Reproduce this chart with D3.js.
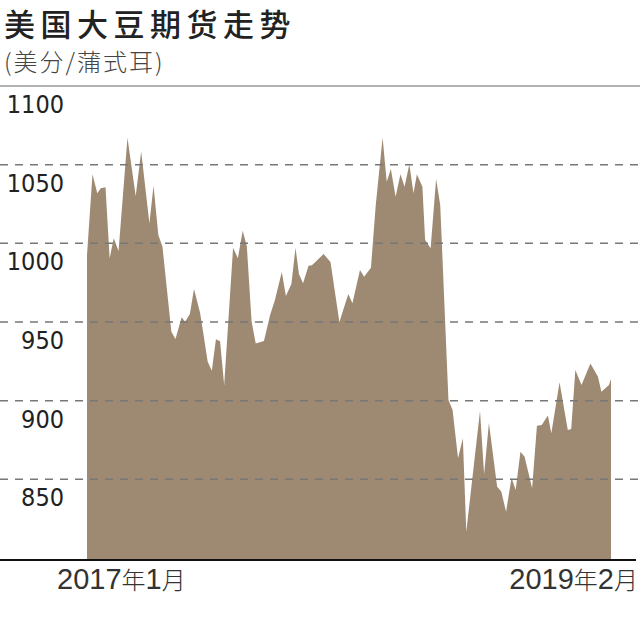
<!DOCTYPE html>
<html>
<head>
<meta charset="utf-8">
<script src="https://cdn.jsdelivr.net/npm/d3@7/dist/d3.min.js"></script>
<style>
  html, body { margin: 0; padding: 0; background: #fff; }
  svg { display: block; }
</style>
</head>
<body>
<svg id="chart" width="640" height="632"></svg>
<script>
const title = "美国大豆期货走势";
const subtitle = "(美分/蒲式耳)";
const dates = [
  "2017-01-03","2017-01-11","2017-01-18","2017-01-23","2017-01-30","2017-02-05","2017-02-11","2017-02-18",
  "2017-03-03","2017-03-15","2017-03-23","2017-04-04","2017-04-10","2017-04-17","2017-04-23","2017-05-06",
  "2017-05-12","2017-05-21","2017-05-26","2017-06-02","2017-06-08","2017-06-17","2017-06-28","2017-07-04",
  "2017-07-10","2017-07-16","2017-07-22","2017-08-04","2017-08-11","2017-08-18","2017-08-24","2017-08-31",
  "2017-09-06","2017-09-18","2017-09-27","2017-10-04","2017-10-14","2017-10-20","2017-10-28","2017-11-03",
  "2017-11-08","2017-11-14","2017-11-22","2017-11-27","2017-12-14","2017-12-24","2018-01-06","2018-01-19",
  "2018-01-25","2018-02-05","2018-02-11","2018-02-21","2018-02-28","2018-03-10","2018-03-16","2018-03-22",
  "2018-03-29","2018-04-05","2018-04-11","2018-04-18","2018-04-24","2018-04-29","2018-05-07","2018-05-11",
  "2018-05-19","2018-05-27","2018-06-02","2018-06-14","2018-06-20","2018-06-28","2018-07-05","2018-07-10",
  "2018-07-30","2018-08-05","2018-08-12","2018-08-24","2018-08-30","2018-09-06","2018-09-14","2018-09-20",
  "2018-09-27","2018-10-03","2018-10-14","2018-10-21","2018-10-28","2018-11-06","2018-11-11","2018-11-23",
  "2018-12-05","2018-12-10","2018-12-16","2018-12-25","2019-01-07","2019-01-18","2019-01-23","2019-02-03",
  "2019-02-06"
];
const prices = [
  992.6,1043.9,1031.8,1035.0,1035.6,990.5,1003.2,995.1,
  1067.1,1030.1,1058.3,1012.7,1036.6,1005.3,997.9,943.8,
  939.2,953.0,950.2,955.1,971.0,955.5,924.8,919.0,
  939.0,937.7,910.0,997.2,990.5,1008.0,998.3,950.2,
  936.4,937.9,954.4,964.0,981.8,966.5,974.1,997.2,
  980.5,974.6,985.8,986.0,993.2,988.1,950.0,967.8,
  961.9,983.0,978.8,984.5,1024.4,1067.1,1039.2,1047.2,
  1029.6,1043.9,1036.0,1050.2,1031.8,1043.9,1036.0,1002.1,
  996.8,1040.9,1024.4,900.4,894.1,863.4,876.1,816.7,
  893.4,853.2,885.8,845.3,842.2,829.4,851.0,843.2,
  867.6,864.4,844.3,884.1,884.6,890.5,879.3,911.7,
  881.4,882.0,919.5,910.0,923.7,915.2,905.7,910.0,
  913.8
];
const yDomain = [800, 1100];
const gridTicks = [850, 900, 950, 1000, 1050];
const labelTicks = [1100, 1050, 1000, 950, 900, 850];
const xLabelStart = ["2017", "年", "1", "月"];
const xLabelEnd = ["2019", "年", "2", "月"];

const data = dates.map((d, i) => ({ date: d3.timeParse("%Y-%m-%d")(d), value: prices[i] }));

const svg = d3.select("#chart");
const W = 640;

const x = d3.scaleTime().domain(d3.extent(data, d => d.date)).range([87, 611]);
const y = d3.scaleLinear().domain(yDomain).range([558, 86]);

// title
svg.append("text").attr("x", 4).attr("y", 36)
  .style("font-family", "'Noto Sans CJK SC', sans-serif")
  .style("font-size", "31px").style("font-weight", "500")
  .style("letter-spacing", "5.5px")
  .attr("fill", "#222").text(title);

svg.append("text").attr("x", 4).attr("y", 71)
  .style("font-family", "'Noto Sans CJK SC', sans-serif")
  .style("font-size", "24px").style("font-weight", "300")
  .style("letter-spacing", "2px")
  .attr("fill", "#444").text(subtitle);

// area
const area = d3.area()
  .x(d => x(d.date))
  .y0(y(yDomain[0]) + 2)
  .y1(d => y(d.value))
  .curve(d3.curveLinear);

svg.append("path").datum(data)
  .attr("d", area)
  .attr("fill", "#9e8a73");

// top rule (1100)
svg.append("line")
  .attr("x1", 0).attr("x2", W)
  .attr("y1", y(1100)).attr("y2", y(1100))
  .attr("stroke", "#9a9a9a").attr("stroke-width", 1.5);

// dashed grid
svg.append("g").selectAll("line").data(gridTicks).join("line")
  .attr("x1", 0).attr("x2", W)
  .attr("y1", d => y(d)).attr("y2", d => y(d))
  .attr("stroke", "#777").attr("stroke-width", 1.5)
  .attr("stroke-dasharray", "8,7");

// y labels
svg.append("g").selectAll("text").data(labelTicks).join("text")
  .attr("x", 64).attr("y", d => y(d) + 27)
  .attr("text-anchor", "end")
  .style("font-family", "'DejaVu Sans Condensed', 'DejaVu Sans', sans-serif")
  .style("font-size", "25px")
  .attr("fill", "#222")
  .text(d => d);

// baseline
svg.append("line")
  .attr("x1", 0).attr("x2", 636)
  .attr("y1", y(yDomain[0]) + 2).attr("y2", y(yDomain[0]) + 2)
  .attr("stroke", "#111").attr("stroke-width", 2);

// x labels
function xLabel(parts, xpos, anchor) {
  const t = svg.append("text").attr("x", xpos).attr("y", 589)
    .attr("text-anchor", anchor).attr("fill", "#333");
  parts.forEach(p => {
    const cjk = /[\u4e00-\u9fff]/.test(p);
    t.append("tspan")
      .style("font-family", cjk ? "'Noto Sans CJK SC', sans-serif" : "'Liberation Sans Narrow', 'Liberation Sans', sans-serif")
      .style("font-size", cjk ? "24px" : "29px")
      .style("font-weight", cjk ? "300" : "400")
      .text(p);
  });
}
xLabel(xLabelStart, 57, "start");
xLabel(xLabelEnd, 638, "end");
</script>
</body>
</html>
